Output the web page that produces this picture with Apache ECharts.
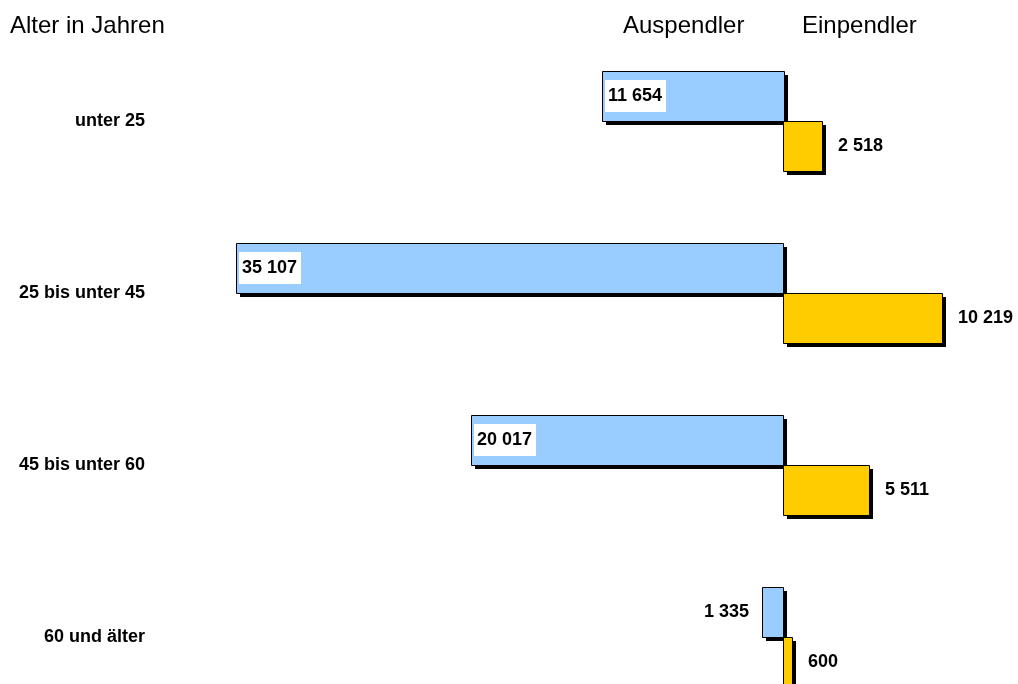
<!DOCTYPE html>
<html>
<head>
<meta charset="utf-8">
<script src="https://cdn.jsdelivr.net/npm/echarts@6/dist/echarts.min.js"></script>
<style>
  html, body { margin: 0; padding: 0; background: #fff; }
  #main { width: 1018px; height: 684px; }
</style>
</head>
<body>
<div id="main"></div>
<script>
// Altersgruppen
var categories = ['unter 25', '25 bis unter 45', '45 bis unter 60', '60 und älter'];
var auspendler = [11654, 35107, 20017, 1335];
var einpendler = [2518, 10219, 5511, 600];

var FONT = '"Liberation Sans", Arial, sans-serif';
var BAR_H = 50;   // Balkendicke in px
var SHADOW = 4;   // Schattenversatz

function fmt(v) {
  // 11654 -> "11 654"
  return String(Math.abs(v)).replace(/\B(?=(\d{3})+(?!\d))/g, ' ');
}

// Balken mit hartem Schatten, oben (Auspendler) bzw. unten (Einpendler) der Kategoriemitte
function makeRender(color, side) {
  return function (params, api) {
    var val = api.value(0);
    var cat = api.value(1);
    var p0 = api.coord([0, cat]);
    var p1 = api.coord([val, cat]);
    var x = Math.round(Math.min(p0[0], p1[0]));
    var w = Math.round(Math.abs(p1[0] - p0[0]));
    var y = Math.round(side < 0 ? p0[1] - BAR_H : p0[1]);
    var label;
    if (side < 0) {
      if (Math.abs(val) >= 5000) {
        label = { text: fmt(val), x: x + 3, y: y + BAR_H / 2, align: 'left', verticalAlign: 'middle',
                  backgroundColor: '#fff', padding: [7, 4, 7, 3] };
      } else {
        label = { text: fmt(val), x: x - 13, y: y + BAR_H / 2, align: 'right', verticalAlign: 'middle' };
      }
    } else {
      label = { text: fmt(val), x: x + w + 16, y: y + BAR_H / 2, align: 'left', verticalAlign: 'middle' };
    }
    label.fill = '#000';
    label.font = 'bold 18px ' + FONT;
    return {
      type: 'group',
      children: [
        { type: 'rect', shape: { x: x + SHADOW, y: y + SHADOW, width: w, height: BAR_H },
          style: { fill: '#000' } },
        { type: 'rect', shape: { x: x + 0.5, y: y + 0.5, width: w, height: BAR_H },
          style: { fill: color, stroke: '#000', lineWidth: 1 } },
        { type: 'text', style: label }
      ]
    };
  };
}

var chart = echarts.init(document.getElementById('main'));

chart.setOption({
  animation: false,
  grid: { left: 4, width: 1013, top: 35, height: 688, outerBoundsMode: 'none', containLabel: false },
  xAxis: {
    type: 'value',
    min: -50000,
    max: 15000,
    show: false
  },
  yAxis: {
    type: 'category',
    data: categories,
    inverse: true,
    offset: -149,
    axisLine: { show: false, onZero: false },
    axisTick: { show: false },
    axisLabel: {
      margin: 8,
      padding: [4, 0, 0, 0],
      color: '#000',
      fontFamily: FONT,
      fontWeight: 'bold',
      fontSize: 18
    }
  },
  graphic: [
    { type: 'text', left: 10, top: 14, style: { text: 'Alter in Jahren', font: '24px ' + FONT, fill: '#000' } },
    { type: 'text', left: 623, top: 14, style: { text: 'Auspendler', font: '24px ' + FONT, fill: '#000' } },
    { type: 'text', left: 802, top: 14, style: { text: 'Einpendler', font: '24px ' + FONT, fill: '#000' } }
  ],
  series: [
    {
      name: 'Auspendler',
      type: 'custom',
      coordinateSystem: 'cartesian2d',
      encode: { x: 0, y: 1 },
      clip: false,
      renderItem: makeRender('#99ccff', -1),
      data: auspendler.map(function (v, i) { return [-v, i]; })
    },
    {
      name: 'Einpendler',
      type: 'custom',
      coordinateSystem: 'cartesian2d',
      encode: { x: 0, y: 1 },
      clip: false,
      renderItem: makeRender('#ffcc00', 1),
      data: einpendler.map(function (v, i) { return [v, i]; })
    }
  ]
});
</script>
</body>
</html>
